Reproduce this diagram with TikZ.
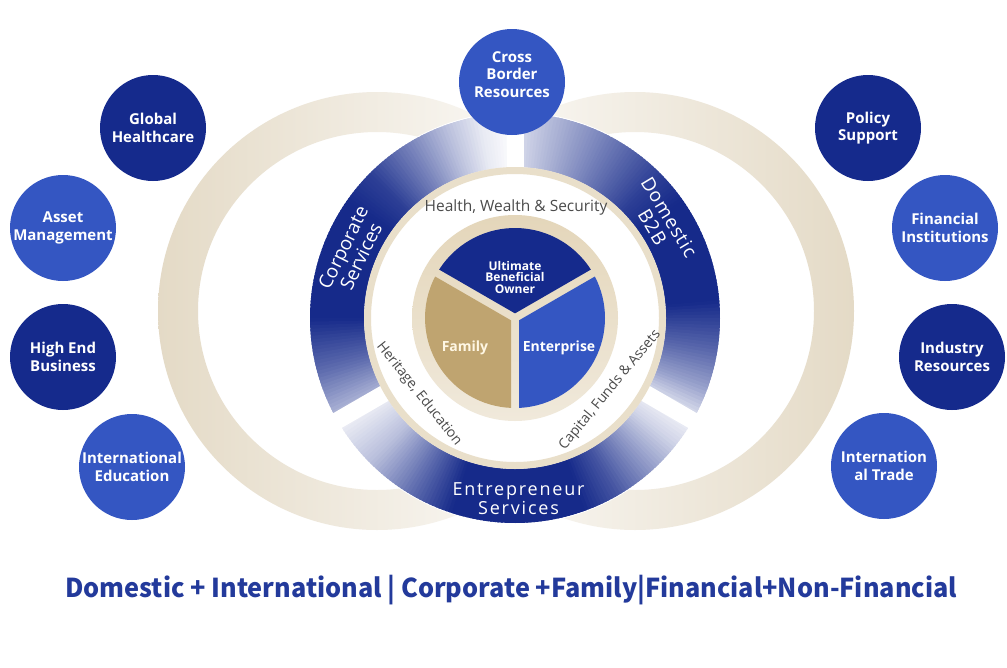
\documentclass[tikz,border=0pt]{standalone}
\usepackage{fontspec}
\setmainfont{Open Sans}
\newfontfamily\titlefont{Noto Sans CJK SC}
\usetikzlibrary{calc}
\definecolor{navy}{RGB}{21,42,140}
\definecolor{midblue}{RGB}{52,86,194}
\definecolor{ringblue}{RGB}{22,42,138}
\definecolor{tan}{RGB}{191,164,112}
\definecolor{beigeA}{RGB}{228,214,186}
\definecolor{beigeB}{RGB}{240,233,219}
\definecolor{bigbeige}{RGB}{228,218,198}
\definecolor{bandbeige}{RGB}{233,223,202}
\definecolor{titleblue}{RGB}{35,58,155}
\definecolor{txtgray}{RGB}{75,75,75}
\definecolor{cream}{RGB}{255,247,228}
% one gradient piece of the blue ring: angle from #1 to #2, strength #3 -> #4 (percent)
\newcommand{\bandpiece}[4]{%
  \pgfmathsetmacro{\nsteps}{int(abs(#2-#1))}%
  \pgfmathsetmacro{\pdir}{(#2-#1)/abs(#2-#1)}%
  \foreach \i in {1,...,\nsteps}{%
    \pgfmathsetmacro{\angA}{#1+(#2-#1)*(\i-1)/\nsteps}%
    \pgfmathsetmacro{\angB}{#1+(#2-#1)*\i/\nsteps+0.6*\pdir}%
    \pgfmathsetmacro{\tv}{#3+(#4-#3)*(\i-0.5)/\nsteps}%
    \fill[ringblue!\tv!white] ($(C)+(\angA:151)$) arc[start angle=\angA, end angle=\angB, radius=151]
      -- ($(C)+(\angB:205)$) arc[start angle=\angB, end angle=\angA, radius=205] -- cycle;
  }%
}
\tikzset{
  bubble/.style={circle, minimum size=106pt, inner sep=0pt, text=white, align=center,
    font=\bfseries\fontsize{15}{17.5}\selectfont},
  bubtext/.style={text=white, align=center, inner sep=0pt, font=\bfseries\fontsize{15}{17.5}\selectfont},
  ringtext/.style={text=white, align=center, inner sep=0pt},
  graytext/.style={text=txtgray, inner sep=0pt},
  pietext/.style={text=white, align=center, inner sep=0pt, font=\bfseries\fontsize{14}{16}\selectfont},
}
\begin{document}
\begin{tikzpicture}[x=1pt,y=1pt]
\path[use as bounding box] (0,0) rectangle (1007,-667);
\fill[white] (0,0) rectangle (1007,-667);
\coordinate (C) at (515,-318);

% large beige rings
\shade[left color=bigbeige, right color=white, even odd rule] (377,-311) circle (219) (377,-311) circle (179);
\shade[left color=white, right color=bigbeige, even odd rule] (635,-311) circle (219) (635,-311) circle (179);

% white disc behind the blue ring
\fill[white] (C) circle (206);

% blue ring with gradients
\foreach \a/\b/\s/\e in {90/100/0/10, 100/110/10/30, 110/120/30/55, 120/135/55/90, 135/145/90/100,
  145/180/100/100, 180/195/100/70, 195/210/70/30}{\bandpiece{\a}{\b}{\s}{\e}}
\foreach \a/\b/\s/\e in {90/75/15/40, 75/60/40/65, 60/45/65/90, 45/35/90/100, 35/5/100/100,
  5/-10/100/70, -10/-20/70/45, -20/-30/45/10}{\bandpiece{\a}{\b}{\s}{\e}}
\foreach \a/\b/\s/\e in {210/225/5/30, 225/240/30/70, 240/252/70/100, 252/290/100/100,
  290/300/100/80, 300/311/80/50, 311/322/50/20, 322/330/20/5}{\bandpiece{\a}{\b}{\s}{\e}}

% gaps
\foreach \a in {90,210,330}{\draw[white, line width=17pt] ($(C)+(\a:150.5)$) -- ($(C)+(\a:212)$);}

% thin beige band
\fill[bandbeige, even odd rule] (C) circle (151) (C) circle (144);

% inner pie
\shade[top color=beigeA, bottom color=beigeB] (C) circle (103);
\fill[navy] ($(C)+(90:4.62)$) -- ($(C)+(32.55:90)$) arc[start angle=32.55, end angle=147.45, radius=90] -- cycle;
\fill[tan] ($(C)+(210:4.62)$) -- ($(C)+(152.55:90)$) arc[start angle=152.55, end angle=267.45, radius=90] -- cycle;
\fill[midblue] ($(C)+(330:4.62)$) -- ($(C)+(272.55:90)$) arc[start angle=272.55, end angle=387.45, radius=90] -- cycle;

\node[pietext, font=\bfseries\fontsize{12}{11.5}\selectfont] (ubo) at (515,-277) {Ultimate\\Beneficial\\Owner};
\node[pietext, text=cream] (fam) at (465,-348) {Family};
\node[pietext] (ent) at (559,-348) {Enterprise};

% ring texts
\node[ringtext, rotate=64, font=\fontsize{19}{20}\selectfont] (cs) at (352,-252) {Corporate\\Services};
\node[ringtext, rotate=-59, font=\fontsize{19}{19.5}\selectfont\addfontfeatures{LetterSpace=5}] (db) at (661,-222) {Domestic\\B2B};
\node[ringtext, font=\fontsize{18}{17}\selectfont\addfontfeatures{LetterSpace=10}] (es) at (518.5,-498.5) {Entrepreneur\\Services};
\node[graytext, anchor=base, font=\fontsize{15.5}{18}\selectfont] (hws) at (516,-211.5) {Health, Wealth \& Security};
\node[graytext, rotate=-51.5, font=\fontsize{14}{16}\selectfont] (he) at (419,-394) {Heritage, Education};
\node[graytext, rotate=50.5, font=\fontsize{14}{16}\selectfont] (cfa) at (610,-390) {Capital, Funds \& Assets};

% top circle
\node[bubble, fill=midblue] (cbr) at (512,-82) {};
\node[bubtext] (cbrt) at (512,-74.5) {Cross\\Border\\Resources};

% satellites left
\node[bubble, fill=navy] (gh) at (153,-128) {Global\\Healthcare};
\node[bubble, fill=midblue] (am) at (63,-228) {Asset\\Management};
\node[bubble, fill=navy] (heb) at (63,-357) {High End\\Business};
\node[bubble, fill=midblue] (ie) at (132,-467) {International\\Education};
% satellites right
\node[bubble, fill=navy] (ps) at (868,-128) {Policy\\Support};
\node[bubble, fill=midblue] (fi) at (945,-228) {Financial\\Institutions};
\node[bubble, fill=navy] (ir) at (952,-357) {Industry\\Resources};
\node[bubble, fill=midblue] (it) at (884,-466) {Internation\\al Trade};

% title
\node[anchor=base, inner sep=0pt, text=titleblue, font=\titlefont\bfseries\fontsize{26}{30}\selectfont] (title) at (511,-597)
  {\resizebox{892pt}{\height}{Domestic + International | Corporate +Family|Financial+Non-Financial}};
\end{tikzpicture}
\end{document}
